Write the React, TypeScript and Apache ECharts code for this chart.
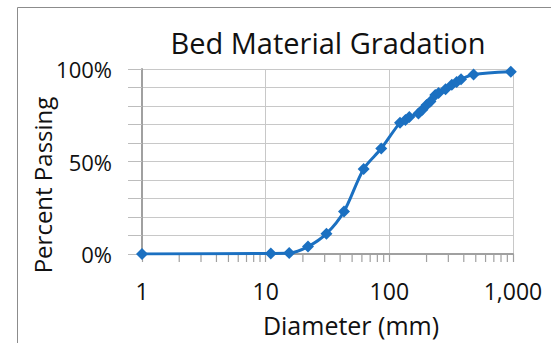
import React, { useEffect, useRef } from "react";
import * as echarts from "echarts";

const diameters = [1, 11, 15.5, 22, 31, 43, 62, 86, 122, 135, 145, 172, 185, 200, 215, 235, 250, 285, 320, 350, 380, 480, 960];
const percentPassing = [0, 0.3, 0.5, 4, 11, 23, 46, 57, 71, 72.5, 74, 76, 78, 80.5, 82.5, 86, 87, 89, 91.5, 93, 94.5, 97, 98.5];
const minorTickValues = [2, 3, 4, 5, 6, 7, 8, 9, 20, 30, 40, 50, 60, 70, 80, 90, 200, 300, 400, 500, 600, 700, 800, 900];
const yTickLabels = [0, 50, 100];

const TITLE = "Bed Material Gradation";
const X_NAME = "Diameter (mm)";
const Y_NAME = "Percent Passing";
const FONT = "Open Sans";
const BLUE = "#1b70c1";
const TXT = "#111";
const AXIS = "#a0a0a0";

export default function App() {
  const ref = useRef<HTMLDivElement>(null);
  useEffect(() => {
    document.body.style.margin = "0";
    const chart = echarts.init(ref.current!, null, { renderer: "svg" });
    chart.setOption({
      animation: false,
      textStyle: { fontFamily: FONT },
      graphic: [
        {
          type: "rect",
          shape: { x: 17.5, y: 7.5, width: 700, height: 500 },
          style: { fill: "none", stroke: "#8c8c8c", lineWidth: 1 },
          silent: true,
        },
        {
          type: "text",
          x: 328,
          y: 42,
          style: { text: TITLE, font: `29px "${FONT}"`, fill: TXT, textAlign: "center", textVerticalAlign: "middle" },
        },
        {
          type: "text",
          x: 351,
          y: 325,
          style: { text: X_NAME, font: `25px "${FONT}"`, fill: TXT, textAlign: "center", textVerticalAlign: "middle" },
        },
        {
          type: "text",
          x: 42,
          y: 185,
          rotation: Math.PI / 2,
          style: { text: Y_NAME, font: `24px "${FONT}"`, fill: TXT, textAlign: "center", textVerticalAlign: "middle" },
        },
      ],
      grid: { left: 142, right: 38, top: 69, bottom: 89 },
      xAxis: {
        type: "log",
        logBase: 10,
        min: 1,
        max: 1000,
        axisLine: { lineStyle: { color: AXIS, width: 2 } },
        axisTick: { show: true, length: 8, lineStyle: { color: AXIS, width: 1.2 } },
        axisLabel: {
          fontSize: 23,
          color: TXT,
          margin: 25,
          formatter: (v: number) => Math.round(v).toLocaleString("en-US"),
        },
        splitLine: { show: true, lineStyle: { color: "#c8c8c8", width: 1 } },
      },
      yAxis: {
        type: "value",
        min: 0,
        max: 100,
        interval: 10,
        axisLine: { show: true, lineStyle: { color: AXIS, width: 2 } },
        axisTick: { show: true, length: 14, lineStyle: { color: "#bdbdbd" } },
        axisLabel: {
          fontSize: 22,
          color: TXT,
          margin: 30,
          formatter: (v: number) => (yTickLabels.includes(v) ? `${v}%` : ""),
        },
        splitLine: { show: true, lineStyle: { color: "#c8c8c8", width: 1 } },
      },
      series: [
        {
          type: "custom",
          silent: true,
          data: minorTickValues.map((v) => [v, 0]),
          renderItem: (params: any, api: any) => {
            const p = api.coord([api.value(0), 0]);
            return {
              type: "line",
              shape: { x1: p[0], y1: p[1], x2: p[0], y2: p[1] + 8 },
              style: { stroke: AXIS, lineWidth: 1.2 },
            };
          },
          z: 1,
        },
        {
          type: "line",
          data: diameters.map((d, i) => [d, percentPassing[i]]),
          smooth: 0.3,
          symbol: "diamond",
          symbolSize: 12,
          lineStyle: { color: BLUE, width: 3 },
          itemStyle: { color: BLUE },
          z: 3,
        },
      ],
    });
    return () => chart.dispose();
  }, []);
  return <div ref={ref} style={{ width: 551, height: 343, position: "absolute", left: 0, top: 0 }} />;
}
